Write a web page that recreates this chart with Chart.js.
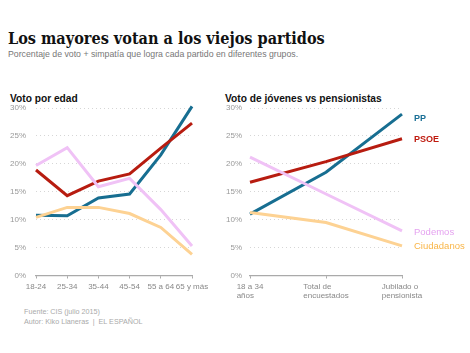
<!DOCTYPE html>
<html>
<head>
<meta charset="utf-8">
<script src="https://cdn.jsdelivr.net/npm/chart.js@4.4.1/dist/chart.umd.min.js"></script>
<style>
  body { margin: 0; width: 470px; height: 353px; background: #fff; position: relative; overflow: hidden;
         font-family: "Liberation Sans", Arial, sans-serif; }
  canvas { position: absolute; left: 0; top: 0; }
  .txt { position: absolute; white-space: nowrap; line-height: 1; }
  #title { left: 8px; top: 28.5px; font: bold 16.1px "DejaVu Serif Condensed", "DejaVu Serif", serif; font-stretch: condensed; color: #111; }
  #subtitle { left: 8px; top: 50px; font-size: 8.75px; color: #777; }
  .panel { top: 94px; font-weight: bold; font-size: 10.2px; color: #111; }
  .foot { left: 24px; font-size: 7.2px; color: #aaa; }
</style>
</head>
<body>
<div class="txt" id="title">Los mayores votan a los viejos partidos</div>
<div class="txt" id="subtitle">Porcentaje de voto + simpatía que logra cada partido en diferentes grupos.</div>
<div class="txt panel" style="left:10px">Voto por edad</div>
<div class="txt panel" style="left:225px">Voto de jóvenes vs pensionistas</div>
<div class="txt foot" style="top:308px">Fuente: CIS (julio 2015)</div>
<div class="txt foot" style="top:318px">Autor: Kiko Llaneras &nbsp;|&nbsp; EL ESPAÑOL</div>
<canvas id="byAge" width="470" height="353"></canvas>
<canvas id="byGroup" width="470" height="353"></canvas>
<script>
// age groups, left panel
const ageLabels = ['18-24', '25-34', '35-44', '45-54', '55 a 64', '65 y más'];
const ppAge = [10.8, 10.7, 13.9, 14.6, 21.6, 30.3];
const psoeAge = [18.9, 14.3, 16.9, 18.2, 22.8, 27.3];
const podemosAge = [19.7, 22.9, 15.9, 17.4, 11.8, 5.3];
const csAge = [10.4, 12.2, 12.2, 11.1, 8.6, 3.8];

// young vs retired, right panel
const groupLabels = [['18 a 34', 'años'], ['Total de', 'encuestados'], ['Jubilado o', 'pensionista']];
const ppGroup = [11.0, 18.5, 28.9];
const psoeGroup = [16.7, 20.4, 24.5];
const podemosGroup = [21.2, 14.6, 8.0];
const csGroup = [11.3, 9.5, 5.3];

const partyNames = ['PP', 'PSOE', 'Podemos', 'Ciudadanos'];
const yMin = 0, yMax = 30, yStep = 5;

const lineColors = ['#176e91', '#b71c10', '#f0c2f6', '#fdd293'];
const labelColors = ['#1a6f96', '#bf1a0e', '#e5a3f0', '#f9b547'];

const FONT = '"Liberation Sans", Arial, sans-serif';

function makeSets(series) {
  // draw order: light lines under dark ones
  return [3, 2, 1, 0].map(i => ({
    label: partyNames[i],
    data: series[i],
    borderColor: lineColors[i],
    borderWidth: 3,
    pointRadius: 0,
    tension: 0,
    clip: false,
    borderJoinStyle: 'miter'
  }));
}

function scales(yPad, yWidth, showX) {
  return {
    x: {
      offset: false,
      grid: { drawOnChartArea: false, drawTicks: true, tickLength: 3, color: '#aaa' },
      border: { display: true, color: '#aaa', width: 1.2 },
      ticks: { display: showX, color: '#888', font: { family: FONT, size: 8 }, padding: 3,
               maxRotation: 0, autoSkip: false },
      afterFit: s => { s.height = 30; }
    },
    y: {
      min: yMin, max: yMax,
      grid: { drawTicks: false, color: c => c.tick.value === 0 ? 'rgba(0,0,0,0)' : '#d6d6d6', lineWidth: 1 },
      border: { display: false, dash: [1, 3] },
      ticks: { stepSize: yStep, color: '#999', padding: yPad, font: { family: FONT, size: 8 },
               callback: v => v + '%' },
      afterFit: s => { s.width = yWidth; }
    }
  };
}

const baseOpts = {
  responsive: false,
  animation: false,
  plugins: { legend: { display: false }, tooltip: { enabled: false } }
};

new Chart(document.getElementById('byAge'), {
  type: 'line',
  data: { labels: ageLabels, datasets: makeSets([ppAge, psoeAge, podemosAge, csAge]) },
  options: Object.assign({}, baseOpts, {
    layout: { padding: { left: 0, right: 278, top: 108, bottom: 47.5 } },
    scales: scales(10, 36, true)
  })
});

// multi-line x labels, lines left aligned in a block centred on the tick
const blockLabels = {
  id: 'blockLabels',
  afterDraw(chart) {
    const xs = chart.scales.x, ctx = chart.ctx;
    ctx.save();
    ctx.font = '8px ' + FONT;
    ctx.fillStyle = '#888';
    ctx.textBaseline = 'top';
    ctx.textAlign = 'left';
    groupLabels.forEach((lines, i) => {
      const w = Math.max(...lines.map(l => ctx.measureText(l).width));
      const x = xs.getPixelForTick(i) - w / 2;
      lines.forEach((l, j) => ctx.fillText(l, x, xs.top + 7 + j * 9));
    });
    ctx.restore();
  }
};

// party names at the end of each line
const endNames = {
  id: 'endNames',
  afterDraw(chart) {
    const ctx = chart.ctx;
    const nudge = { PP: 4, PSOE: 1, Podemos: 2, Ciudadanos: 0 };
    ctx.save();
    ctx.textBaseline = 'middle';
    ctx.textAlign = 'left';
    chart.data.datasets.forEach((ds, di) => {
      const pts = chart.getDatasetMeta(di).data;
      const last = pts[pts.length - 1];
      const i = partyNames.indexOf(ds.label);
      ctx.font = (i < 2 ? 'bold 9px ' : '9.5px ') + FONT;
      ctx.fillStyle = labelColors[i];
      ctx.fillText(ds.label, chart.chartArea.right + 12, last.y + nudge[ds.label]);
    });
    ctx.restore();
  }
};

new Chart(document.getElementById('byGroup'), {
  type: 'line',
  data: { labels: groupLabels.map(l => l.join(' ')), datasets: makeSets([ppGroup, psoeGroup, podemosGroup, csGroup]) },
  options: Object.assign({}, baseOpts, {
    layout: { padding: { left: 214, right: 68, top: 108, bottom: 47.5 } },
    scales: scales(8, 36, false)
  }),
  plugins: [blockLabels, endNames]
});
</script>
</body>
</html>
